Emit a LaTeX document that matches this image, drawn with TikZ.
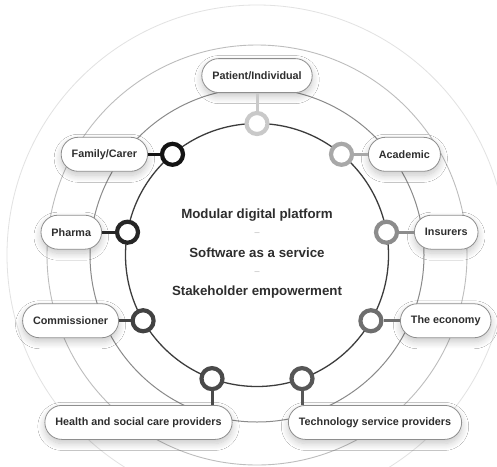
\documentclass[tikz,border=0pt]{standalone}
\usepackage{fontspec}
\setmainfont{Liberation Sans}
\usetikzlibrary{shadows.blur}
\definecolor{txt}{HTML}{2E2E2E}
\definecolor{boxc}{HTML}{8E8E8E}
\definecolor{cA}{HTML}{3C3C3C}
\definecolor{cB}{HTML}{8A8A8A}
\definecolor{cC}{HTML}{BDBDBD}
\definecolor{cD}{HTML}{E2E2E2}
\definecolor{k1}{HTML}{C9C9C9}
\definecolor{k2}{HTML}{A8A8A8}
\definecolor{k3}{HTML}{8C8C8C}
\definecolor{k4}{HTML}{6E6E6E}
\definecolor{k5}{HTML}{575757}
\definecolor{k6}{HTML}{4A4A4A}
\definecolor{k7}{HTML}{424242}
\definecolor{k8}{HTML}{262626}
\definecolor{k9}{HTML}{141414}
\begin{document}
\begin{tikzpicture}[x=1pt,y=-1pt,
  lbl/.style={draw=boxc, line width=0.8pt, fill=white, rounded corners=17pt,
    minimum height=34pt, inner xsep=10.5pt, text=txt,
    font=\bfseries\fontsize{10.8}{12}\selectfont,
    blur shadow={shadow xshift=0pt, shadow yshift=-4pt, shadow blur radius=7pt, shadow opacity=22, shadow blur steps=10}},
  ring/.style={circle, draw=#1, line width=4.2pt, fill=white, minimum size=21pt, inner sep=0pt},
  link/.style={draw=#1, line width=3pt},
  ctext/.style={text=txt, font=\bfseries\fontsize{13.3}{15}\selectfont},
  sep/.style={text=gray!55, font=\fontsize{9}{10}\selectfont}]
\useasboundingbox (0,0) rectangle (497,466);
\fill[white] (0,0) rectangle (497,466);
\begin{scope}
\clip (0,0) rectangle (497,466);
\draw[cD, line width=0.8pt] (257,255) circle[radius=250pt];
\draw[cC, line width=0.9pt] (257,255) circle[radius=210pt];
\draw[cB, line width=1pt] (257,255) circle[radius=167pt];
\draw[cA, line width=1.3pt] (257,255) circle[radius=131.5pt];
\end{scope}
% label boxes
\node[lbl, anchor=south] (b1) at (257,93) {Patient/Individual};
\node[lbl, anchor=west] (b2) at (368,154.3) {Academic};
\node[lbl, anchor=west] (b3) at (414,232.2) {Insurers};
\node[lbl, anchor=west] (b4) at (400,320.75) {The economy};
\node[lbl, anchor=north] (b5) at (375,405) {Technology service providers};
\node[lbl, anchor=north] (b6) at (138.5,405) {Health and social care providers};
\node[lbl, anchor=east] (b7) at (119,320.75) {Commissioner};
\node[lbl, anchor=east] (b8) at (102,232.2) {Pharma};
\node[lbl, anchor=east] (b9) at (148,154.3) {Family/Carer};
% ring markers
\node[ring=k1] (r1) at (257,123.5) {};
\node[ring=k2] (r2) at (341.5,154.3) {};
\node[ring=k3] (r3) at (386.5,232.2) {};
\node[ring=k4] (r4) at (370.9,320.75) {};
\node[ring=k5] (r5) at (302,378.6) {};
\node[ring=k6] (r6) at (212,378.6) {};
\node[ring=k7] (r7) at (143.1,320.75) {};
\node[ring=k8] (r8) at (127.5,232.2) {};
\node[ring=k9] (r9) at (172.5,154.3) {};
% connectors
\draw[link=k1] (r1) -- (r1 |- b1.south);
\draw[link=k2] (r2) -- (r2 -| b2.west);
\draw[link=k3] (r3) -- (r3 -| b3.west);
\draw[link=k4] (r4) -- (r4 -| b4.west);
\draw[link=k5] (r5) -- (r5 |- b5.north);
\draw[link=k6] (r6) -- (r6 |- b6.north);
\draw[link=k7] (r7) -- (r7 -| b7.east);
\draw[link=k8] (r8) -- (r8 -| b8.east);
\draw[link=k9] (r9) -- (r9 -| b9.east);
% centre text
\node[ctext] (t1) at (257,215) {Modular digital platform};
\node[sep] (d1) at (257,234) {–};
\node[ctext] (t2) at (257,253) {Software as a service};
\node[sep] (d2) at (257,273) {–};
\node[ctext] (t3) at (257,292) {Stakeholder empowerment};
\end{tikzpicture}
\end{document}
